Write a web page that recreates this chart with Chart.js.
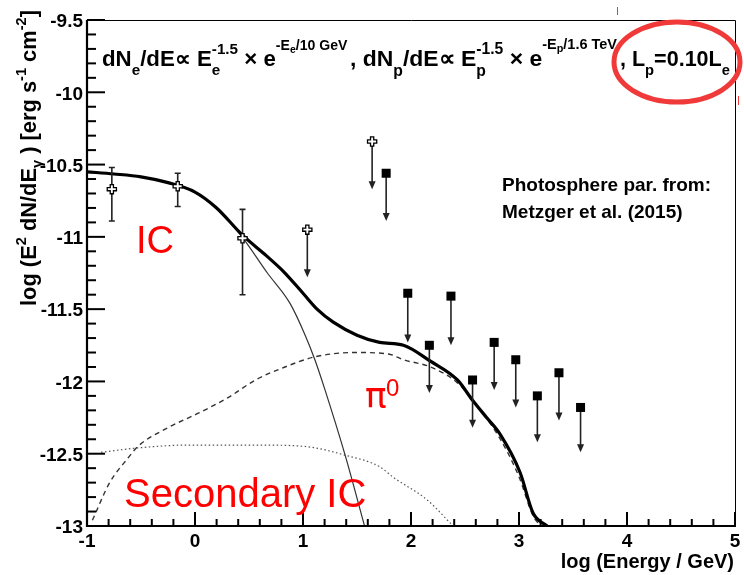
<!DOCTYPE html>
<html>
<head>
<meta charset="utf-8">
<script src="https://cdn.jsdelivr.net/npm/chart.js@4.4.1/dist/chart.umd.min.js"></script>
<style>
  html, body { margin: 0; padding: 0; background: #fff; }
  canvas { display: block; }
</style>
</head>
<body>
<canvas id="sed" width="744" height="575"></canvas>
<script>
// --- axis ticks ---
const xTicks = [-1, 0, 1, 2, 3, 4, 5];
const xTickLabels = ['-1', '0', '1', '2', '3', '4', '5'];
const yTicks = [-13, -12.5, -12, -11.5, -11, -10.5, -10, -9.5];
const yTickLabels = ['-13', '-12.5', '-12', '-11.5', '-11', '-10.5', '-10', '-9.5'];

// --- model curves (log E, log E^2 dN/dE) ---
const totalX = [-1, -0.75, -0.5, -0.25, 0, 0.2, 0.435, 0.66, 0.82, 1.0, 1.13, 1.28, 1.5, 1.71, 1.93, 2.18, 2.43, 2.57, 2.7, 2.82, 3.01, 3.13, 3.26];
const totalY = [-10.55, -10.565, -10.585, -10.625, -10.69, -10.80, -10.985, -11.13, -11.24, -11.39, -11.50, -11.59, -11.68, -11.73, -11.75, -11.86, -11.99, -12.13, -12.25, -12.36, -12.63, -12.91, -13.0];

const icX = [-1, -0.75, -0.5, -0.25, 0, 0.2, 0.435, 0.67, 0.88, 1.02, 1.11, 1.2, 1.39, 1.57];
const icY = [-10.55, -10.565, -10.585, -10.625, -10.69, -10.805, -11.0, -11.25, -11.46, -11.68, -11.85, -12.05, -12.51, -13.0];

const pi0X = [-0.95, -0.79, -0.62, -0.53, -0.25, 0.03, 0.31, 0.56, 0.80, 1.11, 1.48, 1.79, 1.93, 2.18, 2.43, 2.6, 2.82, 3.0, 3.13, 3.2];
const pi0Y = [-12.96, -12.70, -12.53, -12.45, -12.32, -12.22, -12.11, -11.99, -11.91, -11.83, -11.80, -11.81, -11.85, -11.90, -12.01, -12.16, -12.39, -12.66, -12.93, -13.0];

const secX = [-0.87, -0.53, -0.06, 0.56, 1.02, 1.39, 1.71, 1.83, 2.15, 2.39];
const secY = [-12.49, -12.46, -12.44, -12.44, -12.45, -12.51, -12.59, -12.66, -12.82, -13.0];

// --- measurements ---
const fermiX = [-0.77, -0.16, 0.44];
const fermiY = [-10.67, -10.65, -11.01];
const fermiHi = [-10.52, -10.56, -10.81];
const fermiLo = [-10.89, -10.79, -11.40];

const ulCrossX = [1.04, 1.64];
const ulCrossY = [-10.95, -10.34];
const ulCrossEnd = [-11.28, -10.67];

const ulSqX = [1.77, 1.97, 2.17, 2.37, 2.57, 2.77, 2.97, 3.17, 3.37, 3.57];
const ulSqY = [-10.56, -11.39, -11.75, -11.41, -11.99, -11.73, -11.85, -12.10, -11.94, -12.18];
const ulSqEnd = [-10.89, -11.73, -12.08, -11.75, -12.32, -12.06, -12.18, -12.42, -12.27, -12.49];

const pts = (xs, ys) => xs.map((x, i) => ({ x, y: ys[i] }));

const BOLD = '"Liberation Sans", Arial, Helvetica, sans-serif';

// text made of pieces: n = normal, sub, sup, ss = [sup, sub] stacked,
// ex = exponent text, exs = subscript inside exponent.
// returns width; draws only when draw is true
function rich(ctx, x, y, parts, f, draw = true) {
  let cx = x;
  const put = (t, size, dy) => {
    ctx.font = `bold ${size}px ${BOLD}`;
    if (draw) ctx.fillText(t, cx, y + dy);
    return ctx.measureText(t).width;
  };
  for (const [t, k] of parts) {
    if (k === 'ss') {
      const w1 = put(t[0], f.s, -f.up);
      const w2 = put(t[1], f.s, f.down);
      cx += Math.max(w1, w2);
    } else if (k === 'sub') cx += put(t, f.s, f.down);
    else if (k === 'sup') cx += put(t, f.s, -f.up);
    else if (k === 'ex') cx += put(t, f.e, -f.eup);
    else if (k === 'exs') cx += put(t, f.es, -f.eup + 3);
    else cx += put(t, f.n, 0);
  }
  return cx - x;
}

// scale the font set so the piece fits between x0 and x1
function richFit(ctx, x0, x1, y, parts, f) {
  const w = rich(ctx, x0, y, parts, f, false);
  const k = (x1 - x0) / w;
  const g = {};
  Object.keys(f).forEach(key => { g[key] = f[key] * k; });
  rich(ctx, x0, y, parts, g, true);
}

function drawCross(ctx, x, y) {
  const a = 4.6, b = 1.6;
  ctx.beginPath();
  ctx.moveTo(x - b, y - a); ctx.lineTo(x + b, y - a); ctx.lineTo(x + b, y - b);
  ctx.lineTo(x + a, y - b); ctx.lineTo(x + a, y + b); ctx.lineTo(x + b, y + b);
  ctx.lineTo(x + b, y + a); ctx.lineTo(x - b, y + a); ctx.lineTo(x - b, y + b);
  ctx.lineTo(x - a, y + b); ctx.lineTo(x - a, y - b); ctx.lineTo(x - b, y - b);
  ctx.closePath();
  ctx.fillStyle = '#fff';
  ctx.fill();
  ctx.lineWidth = 1.3;
  ctx.strokeStyle = '#000';
  ctx.stroke();
}

function drawArrow(ctx, x, y0, y1) {
  ctx.strokeStyle = '#222';
  ctx.lineWidth = 1.6;
  ctx.beginPath();
  ctx.moveTo(x, y0); ctx.lineTo(x, y1 - 6);
  ctx.stroke();
  ctx.fillStyle = '#222';
  ctx.beginPath();
  ctx.moveTo(x - 3.5, y1 - 8); ctx.lineTo(x + 3.5, y1 - 8); ctx.lineTo(x, y1);
  ctx.closePath();
  ctx.fill();
}

const decor = {
  id: 'decor',
  afterDatasetsDraw(chart) {
    const { ctx, scales: { x: sx, y: sy } } = chart;
    ctx.save();
    // error bars
    fermiX.forEach((v, i) => {
      const px = sx.getPixelForValue(v);
      const top = sy.getPixelForValue(fermiHi[i]);
      const bot = sy.getPixelForValue(fermiLo[i]);
      ctx.strokeStyle = '#222';
      ctx.lineWidth = 1.6;
      ctx.beginPath();
      ctx.moveTo(px, top); ctx.lineTo(px, bot);
      ctx.moveTo(px - 3, top); ctx.lineTo(px + 3, top);
      ctx.moveTo(px - 3, bot); ctx.lineTo(px + 3, bot);
      ctx.stroke();
    });
    // upper limits
    ulCrossX.forEach((v, i) => drawArrow(ctx, sx.getPixelForValue(v), sy.getPixelForValue(ulCrossY[i]), sy.getPixelForValue(ulCrossEnd[i])));
    ulSqX.forEach((v, i) => drawArrow(ctx, sx.getPixelForValue(v), sy.getPixelForValue(ulSqY[i]), sy.getPixelForValue(ulSqEnd[i])));
    ulSqX.forEach((v, i) => {
      const px = sx.getPixelForValue(v), py = sy.getPixelForValue(ulSqY[i]);
      ctx.fillStyle = '#000';
      ctx.fillRect(px - 4.5, py - 4.5, 9, 9);
    });
    fermiX.forEach((v, i) => drawCross(ctx, sx.getPixelForValue(v), sy.getPixelForValue(fermiY[i])));
    ulCrossX.forEach((v, i) => drawCross(ctx, sx.getPixelForValue(v), sy.getPixelForValue(ulCrossY[i])));
    ctx.restore();
  },
  afterDraw(chart) {
    const { ctx, chartArea: a, scales: { x: sx, y: sy } } = chart;
    ctx.save();
    // frame
    ctx.strokeStyle = '#000';
    ctx.lineWidth = 1;
    ctx.beginPath();
    ctx.moveTo(a.left, a.top + 0.5); ctx.lineTo(a.right + 0.5, a.top + 0.5); ctx.lineTo(a.right + 0.5, a.bottom);
    ctx.stroke();
    ctx.lineWidth = 2.2;
    ctx.beginPath();
    ctx.moveTo(a.left, a.top); ctx.lineTo(a.left, a.bottom); ctx.lineTo(a.right + 1, a.bottom);
    ctx.stroke();

    // y ticks (every 0.1, major each 0.5)
    ctx.lineWidth = 2;
    for (let k = 0; k <= 35; k++) {
      const v = -13 + k * 0.1;
      const py = sy.getPixelForValue(v);
      const len = k % 5 === 0 ? 18 : 9;
      ctx.beginPath(); ctx.moveTo(a.left, py); ctx.lineTo(a.left + len, py); ctx.stroke();
    }
    // x ticks (every 0.2, major each 1)
    for (let k = 0; k <= 30; k++) {
      const v = -1 + k * 0.2;
      const px = sx.getPixelForValue(v);
      const len = k % 5 === 0 ? 14 : 7;
      ctx.beginPath(); ctx.moveTo(px, a.bottom); ctx.lineTo(px, a.bottom - len); ctx.stroke();
    }

    // tick labels
    ctx.fillStyle = '#000';
    ctx.font = `bold 19px ${BOLD}`;
    ctx.textAlign = 'right';
    ctx.textBaseline = 'middle';
    yTicks.forEach((v, i) => ctx.fillText(yTickLabels[i], 83, sy.getPixelForValue(v) + 2));
    ctx.textAlign = 'center';
    xTicks.forEach((v, i) => ctx.fillText(xTickLabels[i], sx.getPixelForValue(v), 542));

    // axis titles
    ctx.textBaseline = 'alphabetic';
    ctx.textAlign = 'right';
    ctx.font = `bold 20px ${BOLD}`;
    ctx.fillText('log (Energy / GeV)', 734, 568);
    ctx.textAlign = 'left';
    ctx.save();
    ctx.translate(36, 306);
    ctx.rotate(-Math.PI / 2);
    richFit(ctx, 0, 296, 0, [
      ['log (E', 'n'], ['2', 'sup'], [' dN/dE', 'n'], ['γ', 'sub'], [' ) [erg s', 'n'],
      ['-1', 'sup'], [' cm', 'n'], ['-2', 'sup'], [']', 'n']
    ], { n: 18, s: 12, up: 8, down: 5, e: 12, es: 9, eup: 8 });
    ctx.restore();

    // header formula, three pieces
    const hf = { n: 19, s: 13, up: 10, down: 8, e: 12, es: 9, eup: 14 };
    richFit(ctx, 102, 348, 66, [
      ['dN', 'n'], ['e', 'sub'], ['/dE', 'n'], ['\u221D', 'n'], [' E', 'n'], [['-1.5', 'e'], 'ss'],
      [' \u00D7 e', 'n'], ['-E', 'ex'], ['e', 'exs'], ['/10 GeV', 'ex']
    ], hf);
    richFit(ctx, 350, 618, 66, [
      [', dN', 'n'], ['p', 'sub'], ['/dE', 'n'], ['\u221D', 'n'], [' E', 'n'], [['-1.5', 'p'], 'ss'],
      [' \u00D7 e', 'n'], ['-E', 'ex'], ['p', 'exs'], ['/1.6 TeV', 'ex']
    ], hf);
    richFit(ctx, 620, 730, 66, [
      [', L', 'n'], ['p', 'sub'], ['=0.10L', 'n'], ['e', 'sub']
    ], hf);

    // note
    ctx.font = `bold 19px ${BOLD}`;
    ctx.fillText('Photosphere par. from:', 502, 191);
    ctx.fillText('Metzger et al. (2015)', 502, 218);

    // red labels
    ctx.fillStyle = '#ff0000';
    ctx.font = `38px ${BOLD}`;
    ctx.fillText('IC', 136, 253);
    ctx.font = `40px ${BOLD}`;
    ctx.fillText('Secondary IC', 124, 507);
    ctx.font = `36px "DejaVu Sans", sans-serif`;
    ctx.fillText('\u03C0', 365, 408);
    ctx.font = `24px ${BOLD}`;
    ctx.fillText('0', 386, 396);

    // highlight ellipse
    ctx.strokeStyle = '#f03a3a';
    ctx.lineWidth = 5;
    ctx.beginPath();
    ctx.ellipse(677, 62, 63, 40, 0, 0, Math.PI * 2);
    ctx.stroke();
    ctx.lineWidth = 1;
    ctx.beginPath();
    ctx.moveTo(617.5, 7); ctx.lineTo(617.5, 15);
    ctx.moveTo(738.5, 96); ctx.lineTo(738.5, 105);
    ctx.stroke();
    ctx.restore();
  }
};

const lineDs = (xs, ys, extra) => Object.assign({
  data: pts(xs, ys), showLine: true, pointRadius: 0, fill: false,
  cubicInterpolationMode: 'monotone', borderColor: '#000'
}, extra);

new Chart(document.getElementById('sed').getContext('2d'), {
  type: 'scatter',
  data: {
    datasets: [
      lineDs(totalX, totalY, { label: 'Total', borderWidth: 3.2 }),
      lineDs(icX, icY, { label: 'IC', borderWidth: 1.2, borderColor: '#333' }),
      lineDs(pi0X, pi0Y, { label: 'pi0', borderWidth: 1.4, borderColor: '#333', borderDash: [5, 4] }),
      lineDs(secX, secY, { label: 'Secondary IC', borderWidth: 1.2, borderColor: '#555', borderDash: [1.5, 2.5] })
    ]
  },
  options: {
    responsive: false,
    animation: false,
    devicePixelRatio: 1,
    layout: { padding: { left: 87, top: 20, right: 9, bottom: 49 } },
    plugins: { legend: { display: false }, tooltip: { enabled: false } },
    scales: {
      x: { type: 'linear', min: -1, max: 5, display: false },
      y: { type: 'linear', min: -13, max: -9.5, display: false }
    }
  },
  plugins: [decor]
});
</script>
</body>
</html>
